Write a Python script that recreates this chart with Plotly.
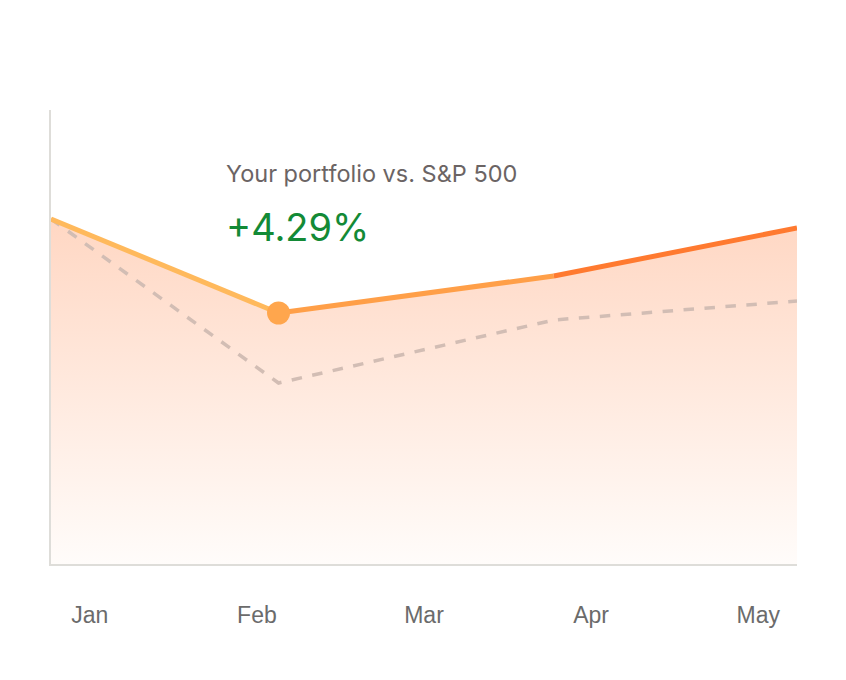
import plotly.graph_objects as go

# Data (x as fraction of the plot width)
x_pts = [0.0, 0.305, 0.674, 1.0]
portfolio = [345, 251, 288, 336]
sp500 = [345, 181, 244, 263]

months = ["Jan", "Feb", "Mar", "Apr", "May"]
month_pos = [0.052, 0.276, 0.5, 0.724, 0.948]

seg_colors = ["#FFB95C", "#FF9F48", "#FF7A30"]

fig = go.Figure()

# gradient area under the portfolio line
fig.add_trace(go.Scatter(
    x=x_pts, y=portfolio, mode="lines", line=dict(width=0),
    fill="tozeroy",
    fillgradient=dict(type="vertical", start=0, stop=345,
                      colorscale=[[0, "#FFFCFA"], [1, "#FFD7C3"]]),
    hoverinfo="skip", showlegend=False,
))

# S&P 500 dashed line
fig.add_trace(go.Scatter(
    x=x_pts, y=sp500, mode="lines",
    line=dict(color="#D2BDB4", width=3.5, dash="dash"),
    showlegend=False,
))

# portfolio line, one segment per colour step
for i in range(len(x_pts) - 1):
    fig.add_trace(go.Scatter(
        x=x_pts[i:i + 2], y=portfolio[i:i + 2], mode="lines",
        line=dict(color=seg_colors[i], width=5),
        showlegend=False,
    ))

# highlighted Feb point
fig.add_trace(go.Scatter(
    x=[x_pts[1]], y=[portfolio[1]], mode="markers",
    marker=dict(color="#FFA64D", size=23),
    showlegend=False,
))

fig.add_annotation(x=0.232, y=454 - (173 - 110), xref="x", yref="y",
                   text="Your portfolio vs. S&P 500", showarrow=False, xanchor="left",
                   font=dict(size=23.5, color="#6B6464"))
fig.add_annotation(x=0.232, y=454 - (227 - 110), xref="x", yref="y", text="+4.29%",
                   showarrow=False, xanchor="left", font=dict(size=38, color="#138A36"))

fig.update_layout(
    width=846, height=680,
    margin=dict(l=43, r=57, t=102, b=124),
    paper_bgcolor="white", plot_bgcolor="white",
    font=dict(family="Inter, Roboto, sans-serif"),
    xaxis=dict(range=[0, 1], showgrid=False, zeroline=False,
               showline=True, linecolor="#DEDDD9", linewidth=2,
               tickvals=month_pos, ticktext=months, ticks="",
               ticklabelstandoff=29,
               tickfont=dict(family="Liberation Sans, Arial, sans-serif",
                             size=23, color="#6B6B6B")),
    yaxis=dict(range=[0, 454], showgrid=False, zeroline=False,
               showline=True, linecolor="#DEDDD9", linewidth=2,
               showticklabels=False, ticks=""),
)

fig.write_html("out.html")
